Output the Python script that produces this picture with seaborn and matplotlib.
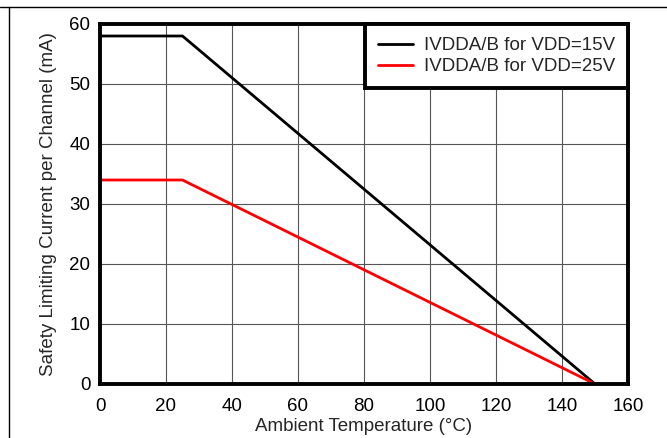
import matplotlib
matplotlib.use("Agg")
import matplotlib.pyplot as plt
import seaborn as sns
import pandas as pd
from matplotlib.lines import Line2D

temp_15v = [0, 25, 150]
current_15v = [58, 58, 0]
temp_25v = [0, 25, 150]
current_25v = [34, 34, 0]
series_names = ["IVDDA/B for VDD=15V", "IVDDA/B for VDD=25V"]
colors = ["#000000", "#ff0000"]
x_ticks = [0, 20, 40, 60, 80, 100, 120, 140, 160]
y_ticks = [0, 10, 20, 30, 40, 50, 60]

df = pd.concat([
    pd.DataFrame({"temp": temp_15v, "current": current_15v, "series": series_names[0]}),
    pd.DataFrame({"temp": temp_25v, "current": current_25v, "series": series_names[1]}),
])

sns.set_style("white")
plt.rcParams['font.family'] = ['Liberation Sans', 'DejaVu Sans']

FS = 13.5

fig = plt.figure(figsize=(6.67, 4.38), dpi=100)
ax = fig.add_axes([100/667, 1-384/438, 528/667, 360/438])

sns.lineplot(data=df, x="temp", y="current", hue="series", palette=colors,
             linewidth=2, ax=ax, sort=False, estimator=None)

ax.set_xlim(0, 160)
ax.set_ylim(0, 60)
ax.set_xticks(x_ticks)
ax.set_yticks(y_ticks)
ax.grid(True, color="#555555", linewidth=0.8)
ax.set_axisbelow(True)
for s in ax.spines.values():
    s.set_visible(True)
    s.set_color("black")
    s.set_linewidth(2.8)
ax.tick_params(axis="x", length=0, labelsize=FS, pad=10, colors="black")
ax.tick_params(axis="y", length=0, labelsize=FS, pad=7, colors="black")
ax.set_xlabel("Ambient Temperature (°C)", fontsize=FS, labelpad=2)
ax.set_ylabel("Safety Limiting Current per Channel (mA)", fontsize=FS, labelpad=9)

leg = ax.legend(loc="upper right", bbox_to_anchor=(1, 1), borderaxespad=0,
                fontsize=FS, frameon=True, fancybox=False, handlelength=1.9,
                handletextpad=0.55, borderpad=0.7, labelspacing=0.2)
leg.get_frame().set_edgecolor("black")
leg.get_frame().set_linewidth(2.8)
leg.get_frame().set_alpha(1)
for h in leg.get_lines():
    h.set_linewidth(2)

fig.add_artist(Line2D([0, 1], [1-6.5/438, 1-6.5/438], transform=fig.transFigure, color="black", linewidth=1))
fig.add_artist(Line2D([8.5/667, 8.5/667], [0, 1-6.5/438], transform=fig.transFigure, color="black", linewidth=1))

fig.savefig("out.png", dpi=100)
